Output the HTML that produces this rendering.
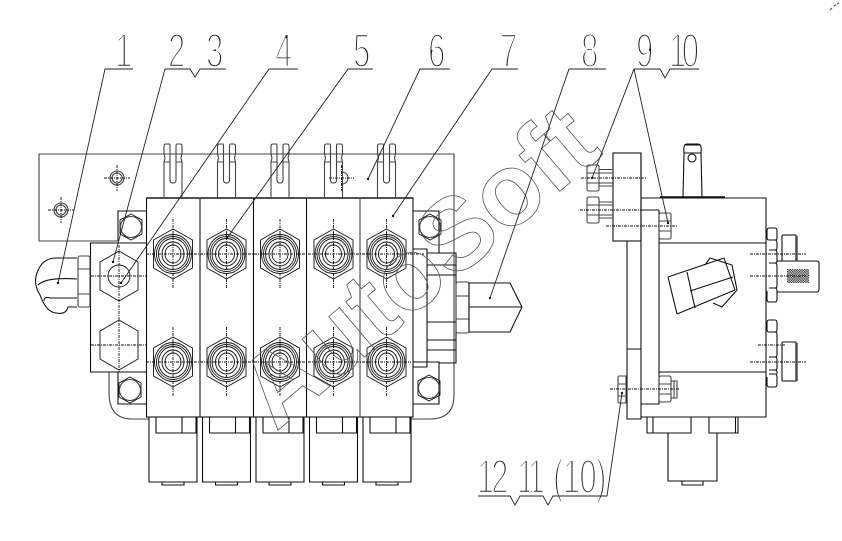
<!DOCTYPE html>
<html><head><meta charset="utf-8"><style>
html,body{margin:0;padding:0;background:#fff}
svg{display:block}
.n{font-family:"Liberation Sans",sans-serif;font-size:48px;fill:#222;stroke:#fff;stroke-width:2.600px}
.wm{font-family:"Liberation Sans",sans-serif;font-weight:bold;font-size:102px;fill:none;stroke:#555;stroke-width:.8px}
.l{fill:none;stroke:#111;stroke-width:1.100}
.g{fill:none;stroke:#444;stroke-width:1.100}
.t{fill:none;stroke:#111;stroke-width:.9}
.d{fill:none;stroke:#111;stroke-width:.9;stroke-dasharray:3 1 1 1}
</style></head><body>
<svg width="842" height="541" viewBox="0 0 842 541" xmlns="http://www.w3.org/2000/svg">
<defs>
<g id="v" class="t">
<path d="M0-25 19.5-14V14L0 25-19.5 14V-14Z"/>
<ellipse cx="0" cy="0" rx="18.5" ry="19.5"/>
<ellipse cx="0" cy="0" rx="16.5" ry="17.5"/>
<ellipse cx="0" cy="0" rx="14.5" ry="15.5"/>
<ellipse cx="0" cy="0" rx="11" ry="12"/>
<ellipse cx="0" cy="0" rx="8" ry="9"/>
<path class="d" d="M0-35V35"/>
</g>
<g id="lv" class="g">
<path d="M-9 53V18L-8 14-9 10V2Q-9 0-7 0H-3.500Q-3 0-3 2V36Q-3 39 0 39 3 39 3 36V2Q3 0 4 0H7Q9 0 9 2V10L8 14 9 18V53"/>
<path d="M-9 18H-3M3 18H9"/>
<path d="M-26 54H26" stroke-width="1.600"/>
</g>
<g id="s" class="l">
<path d="M0 0V65H48V0"/>
<path d="M7 0V16H47V0M33 0V16" />
<path d="M13 65V68H35V65"/>
</g>
<g id="bh">
<circle class="g" r="7"/><circle class="g" r="5"/>
<path class="d" d="M-13 0H13M0-13V13"/>
</g>
<g id="bolt" class="t"><path d="M0-13 11-7V7L0 13-11 7V-7Z"/><circle r="10.500" class="g"/></g>
<g id="nut" class="g"><path d="M2 0H10Q12 0 12 2V24Q12 26 10 26H2Q0 26 0 24V2Q0 0 2 0Z"/><path d="M0 8H12M0 18H12"/></g>
<pattern id="chk" width="2.400" height="2.400" patternUnits="userSpaceOnUse"><rect width="1.200" height="1.200" fill="#111"/><rect x="1.200" y="1.200" width="1.200" height="1.200" fill="#111"/></pattern>
</defs>

<!-- numbers -->
<g class="n">
<text transform="translate(115 67) scale(.65 1)">1</text>
<text transform="translate(168 67) scale(.65 1)">2</text>
<text transform="translate(206 67) scale(.65 1)">3</text>
<text transform="translate(275 67) scale(.65 1)">4</text>
<text transform="translate(353 67) scale(.65 1)">5</text>
<text transform="translate(428 67) scale(.65 1)">6</text>
<text transform="translate(500 67) scale(.65 1)">7</text>
<text transform="translate(581 67) scale(.65 1)">8</text>
<text transform="translate(636 67) scale(.65 1)">9</text>
<text transform="translate(669 67) scale(.65 1)" letter-spacing="-7">10</text>
<text transform="translate(477 493) scale(.65 1)" letter-spacing="-5">12</text>
<text transform="translate(517 493) scale(.65 1)" letter-spacing="-7">11</text>
<text transform="translate(553 493) scale(.65 1)" letter-spacing="-1">(10)</text>
</g>

<!-- bracket -->
<path class="g" d="M118 241H39V154H454V395Q454 419 430 419H411M149 419H132Q109 419 109 393V372"/>
<use href="#bh" x="61" y="210"/><use href="#bh" x="117" y="178"/>
<path class="g" d="M342 172A6 6 0 0 1 342 184"/>
<path class="d" d="M329 178H354M341.500 165V191"/>

<!-- levers -->
<use href="#lv" x="173" y="144"/><use href="#lv" x="226.500" y="144"/><use href="#lv" x="280" y="144"/><use href="#lv" x="333.500" y="144"/><use href="#lv" x="386.500" y="144"/>

<!-- blocks -->
<rect x="146.500" y="198" width="266.500" height="219" fill="none" stroke="#111" stroke-width="1.100"/>
<path class="l" d="M200 198V417M253.500 198V417M306.500 198V417"/>
<path class="g" d="M360 198V417"/>

<!-- solenoids -->
<use href="#s" x="149" y="417"/><use href="#s" x="202.500" y="417"/><use href="#s" x="256" y="417"/><use href="#s" x="309.500" y="417"/><use href="#s" x="363" y="417"/>

<!-- valves -->
<use href="#v" x="173" y="254"/><use href="#v" x="226.500" y="254"/><use href="#v" x="280" y="254"/><use href="#v" x="333.500" y="254"/><use href="#v" x="386.500" y="254"/>
<use href="#v" x="173" y="362"/><use href="#v" x="226.500" y="362"/><use href="#v" x="280" y="362"/><use href="#v" x="333.500" y="362"/><use href="#v" x="386.500" y="362"/>
<path class="d" d="M146 254H424M146 362H411"/>

<!-- inlet block -->
<path class="l" d="M146 243H90.500V372H146"/>
<g class="t">
<path d="M119 251 138 262V290L119 301 100 290V262Z"/><circle cx="119" cy="276" r="11"/>
<path d="M119 320 138 331V359L119 370 100 359V331Z"/>
</g>
<path class="d" d="M91 276H146M91 345H146M119 245V372"/>

<!-- corner bolts -->
<path class="l" d="M146 211H118V241M118 372V404H146M413 211H439V253M413 362H439V404H413"/>
<use href="#bolt" x="131" y="227"/><use href="#bolt" x="130" y="390"/><use href="#bolt" x="430" y="227"/><use href="#bolt" x="429" y="388"/>

<!-- right side of left view -->
<path class="l" d="M413 249H427V367H413M427 253H456V363H439M427 265H456M427 275H456M427 322H456M427 340H456M427 350H456"/>
<rect x="456" y="282" width="13" height="51" rx="2" class="g"/>
<path class="g" d="M456 296H469M456 319H469"/>
<path class="l" d="M469 283H510L522 307 510 332H469ZM469 307H522"/>

<!-- elbow fitting -->
<path class="l" d="M77 258H56Q42 258 37 273 33 284 40 295 46 312 56 313 66 315 68 307H77M38 285Q46 277 77 279M44 301Q44 296 50 298H77"/>
<rect x="78" y="256" width="12" height="51" rx="2" class="g"/>
<path class="g" d="M78 269H90M78 294H90"/>

<!-- right view -->
<g class="l">
<rect x="613" y="153" width="28" height="88"/>
<path d="M627 241V419H641V153M627 349H641"/>
<path d="M641 198H766V417H641M659 210V404H641M641 210H659M659 243H766M659 372H766"/>
<path d="M683 197 684 153H701L702 197M684 153Q683 144 687 144H698Q702 144 701 153M684 145H701"/>
<circle cx="692" cy="158" r="4"/>
<path d="M660 197H725" stroke-width="1.600"/>
<path d="M647 417V433H691V417M653 417V433M709 417V433H738V417M735.500 417V433M668 433V481H717V433M682 481V485H703V481"/>
</g>
<use href="#nut" x="587" y="165"/><use href="#nut" x="587" y="197"/><use href="#nut" x="659" y="213"/><use href="#nut" x="659" y="376"/>
<path class="g" d="M619 376H626V403H619Q618 403 618 401V378Q618 376 619 376ZM618 384H627M618 396H627"/>
<path class="g" d="M599 169.500H613M599 173H613M599 183H613M599 186H613M599 202H613M599 205H613M599 215H613M599 218H613M671 381H677V398H671M674 381V398"/>
<path class="d" d="M581 178H647M580 210H647M606 226H677M610 389H680"/>
<path class="l" d="M668 277 724 258M677 314 735 290M668 277 677 314M687 272 695 308M690 291 733 277M705 265 710 258 732 265 737 290 722 307 713 303M724 258 735 290"/>
<g class="l">
<path d="M769 228H775Q777 228 777 231V238Q777 240 775 240H769Q767 240 767 238V231Q767 228 769 228ZM769 240H775Q777 240 777 243V248Q777 250 775 250H769M769 250H775Q777 250 777 253V261Q777 263 775 263H769M769 263H775Q777 263 777 266V286Q777 288 775 288H769M769 288H775Q777 288 777 291V299Q777 302 775 302H769Q767 302 767 299V291"/>
<path d="M769 320H775Q777 320 777 323V330Q777 332 775 332H769Q767 332 767 330V323Q767 320 769 320ZM769 332H775Q777 332 777 335V355Q777 357 775 357H769M769 357H775Q777 357 777 360V368Q777 370 775 370H769M769 370H775Q777 370 777 372V374M769 374H775Q777 374 777 377V384Q777 387 775 387H769Q767 387 767 384V377"/>
</g>
<path class="l" d="M782 261V236Q782 235 783 235H796V261M777 261H817Q819 261 819 263V289Q819 292 817 292H777M783 342H796V381H783Q782 381 782 380V343Q782 342 783 342Z"/>
<path d="M797 236V261M797 343V381M783 381H796M783 235H796" stroke="#555" stroke-width="1.500" fill="none"/>
<rect x="787" y="269" width="22" height="14" fill="url(#chk)"/>
<path class="d" d="M750 254H806M750 276H806M758 345H785M750 362H806" stroke="#555"/>

<!-- watermark -->
<text class="wm" transform="translate(276 432) rotate(-40.300)">AutoSoft</text>

<!-- leaders -->
<g fill="none" stroke="#222" stroke-width=".9">
<path d="M133 69H105L58 283"/>
<path d="M226 69H200L195 77 190 69H165L113 262"/>
<path d="M298 69H269L121 283"/>
<path d="M373 69H348L227 238"/>
<path d="M450 69H420L368 179"/>
<path d="M518 69H492L393 216"/>
<path d="M606 69H569L490 298"/>
<path d="M699 69H670L665 78 660 69H634L592 178M634 69 668 223"/>
<path d="M478 496H510L515 505 520 496H543L548 505 553 496H607L622 393"/>
</g>
<g fill="#111">
<circle cx="58" cy="283" r="1.200"/><circle cx="113" cy="262" r="1.200"/><circle cx="121" cy="283" r="1.200"/><circle cx="227" cy="238" r="1.200"/><circle cx="368" cy="179" r="1.200"/><circle cx="393" cy="216" r="1.200"/><circle cx="490" cy="298" r="1.200"/><circle cx="592" cy="178" r="1.200"/><circle cx="668" cy="223" r="1.200"/><circle cx="622" cy="393" r="1.200"/>
</g>
<path d="M830 10l2-2M834 6l2-1M837 4l2-1" stroke="#444" fill="none"/>
</svg>
</body></html>
